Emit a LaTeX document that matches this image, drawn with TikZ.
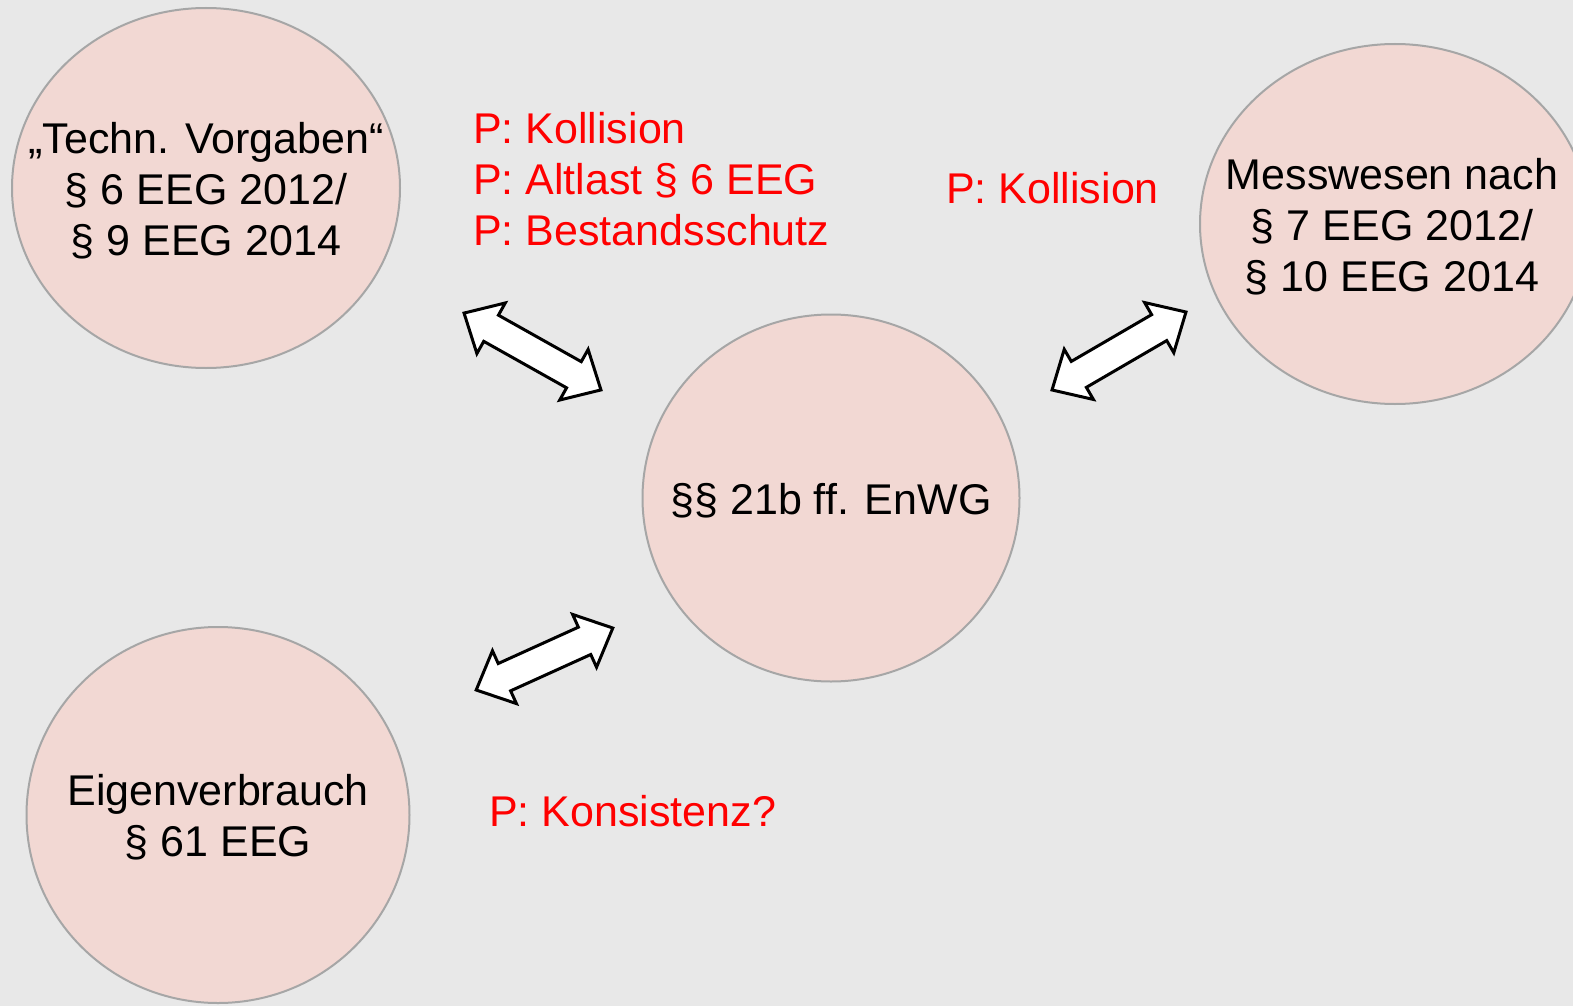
\documentclass[tikz,border=0pt]{standalone}
\usepackage{fontspec}
\setmainfont{Liberation Sans}
\usetikzlibrary{shapes.geometric,positioning}
\definecolor{bgGray}{HTML}{E8E8E8}
\definecolor{bubbleFill}{HTML}{F2D8D3}
\definecolor{bubbleLine}{HTML}{A6A6A6}
\tikzset{
  bubble/.style={ellipse,draw=bubbleLine,fill=bubbleFill,line width=2pt,inner sep=0pt},
  lawtext/.style={align=center,font=\fontsize{43}{51}\selectfont,inner sep=0pt,yshift=-2.5pt},
  problem/.style={align=left,text=red,font=\fontsize{43}{51}\selectfont,anchor=west,inner sep=0pt},
  link/.style={draw=black,fill=white,line width=3pt,line join=miter}
}
% double block arrow: centre x, centre y, angle, length
\newcommand\linkarrow[4]{%
  \begin{scope}[shift={(#1,#2)},rotate=#3]
    \draw[link] (-#4/2,0) -- ++(31,29) -- ++(0,-14) -- (#4/2-31,15) -- ++(0,14)
      -- (#4/2,0) -- ++(-31,-29) -- ++(0,14) -- (-#4/2+31,-15) -- ++(0,-14) -- cycle;
  \end{scope}}
\begin{document}
\begin{tikzpicture}[x=1pt,y=-1pt]
\useasboundingbox (0,0) rectangle (1573,1006);
\clip (0,0) rectangle (1573,1006);
\fill[bgGray] (0,0) rectangle (1573,1006);
% bubbles
\node[bubble,minimum width=388pt,minimum height=360pt] (tech) at (206,188) {};
\node[bubble,minimum width=390pt,minimum height=360pt] (mess) at (1395,224) {};
\node[bubble,minimum width=377pt,minimum height=367pt] (enwg) at (831,498) {};
\node[bubble,minimum width=383pt,minimum height=376pt] (eigen) at (218,815) {};
\node[lawtext] at (tech) {„Techn. Vorgaben“\\§ 6 EEG 2012/\\§ 9 EEG 2014};
\node[lawtext] at (1392,224) {Messwesen nach\\§ 7 EEG 2012/\\§ 10 EEG 2014};
\node[lawtext] at (enwg) {§§ 21b ff. EnWG};
\node[lawtext] at (eigen) {Eigenverbrauch\\§ 61 EEG};
% arrows
\linkarrow{532.5}{351.5}{-29.3}{157}
\linkarrow{1119}{351}{30.2}{155}
\linkarrow{544.5}{659}{24.4}{150}
% problems
\node[problem] (pa) at (473,179) {P: Kollision\\P: Altlast § 6 EEG\\P: Bestandsschutz};
\node[problem] (pb) at (946,188) {P: Kollision};
\node[problem] (pc) at (489,811) {P: Konsistenz?};
\end{tikzpicture}
\end{document}
